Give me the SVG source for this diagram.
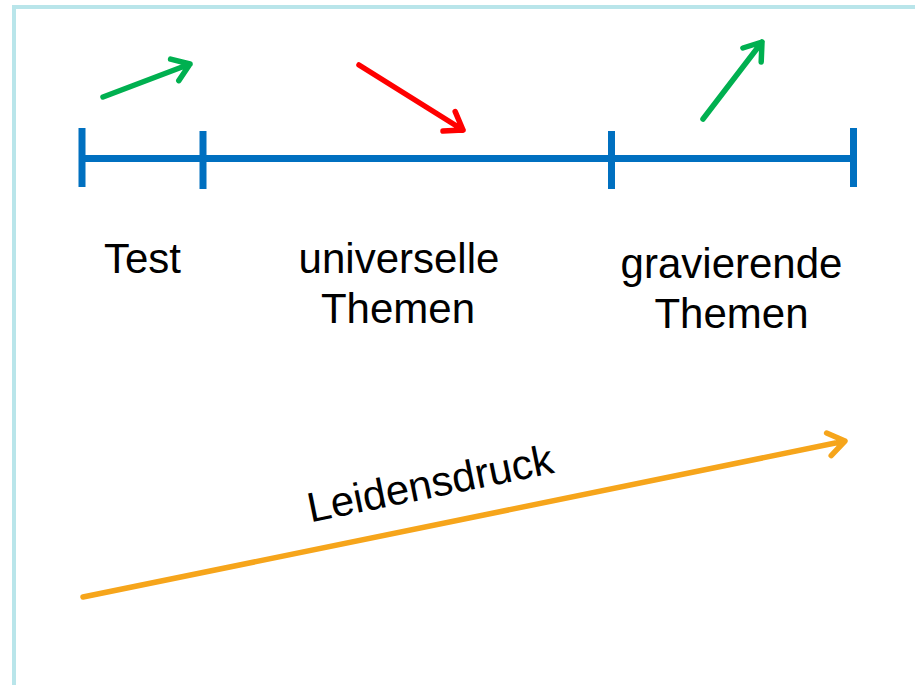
<svg xmlns="http://www.w3.org/2000/svg" width="915" height="685" viewBox="0 0 915 685">
<style>
.lbl{font-family:"Liberation Sans",Arial,sans-serif;font-size:42px;fill:#000;text-anchor:middle}
.tl{stroke:#0070C0;stroke-width:7;fill:none}
.arr{fill:none;stroke-width:5.5;stroke-linecap:round;stroke-linejoin:round}
.g{stroke:#00B050}
.r{stroke:#FF0000}
.o{stroke:#F6A51B}
</style>
<rect width="915" height="685" fill="#fff"/>
<path d="M14,685 V7 H915" fill="none" stroke="#B9E5EA" stroke-width="4"/>
<g id="timeline">
<path class="tl" d="M82,158.5 H853.5"/>
<path class="tl" d="M82,128 V187 M203,131 V189 M611.5,131 V189 M853.5,128 V187"/>
</g>
<g id="label-test"><text class="lbl" x="142.5" y="273">Test</text></g>
<g id="label-universelle"><text class="lbl" x="399" y="273">universelle</text><text class="lbl" x="398" y="323">Themen</text></g>
<g id="label-gravierende"><text class="lbl" x="731.5" y="278">gravierende</text><text class="lbl" x="731.5" y="328">Themen</text></g>
<g id="connectors">
<path class="arr g" d="M103,97 L190,64 M170.6,59.1 L190,64 L178.8,80.6"/>
<path class="arr r" d="M359,65 L463,130 M455.2,111.6 L463,130 L443,131"/>
<path class="arr g" d="M703,119 L762,42 M742.9,48 L762,42 L761.2,62"/>
<path class="arr o" d="M83,597 L845,441 M826.6,433 L845,441 L831.2,455.6"/>
</g>
<g id="label-leidensdruck"><text class="lbl" x="433" y="497.5" transform="rotate(-11.5 433 497.5)">Leidensdruck</text></g>
</svg>
